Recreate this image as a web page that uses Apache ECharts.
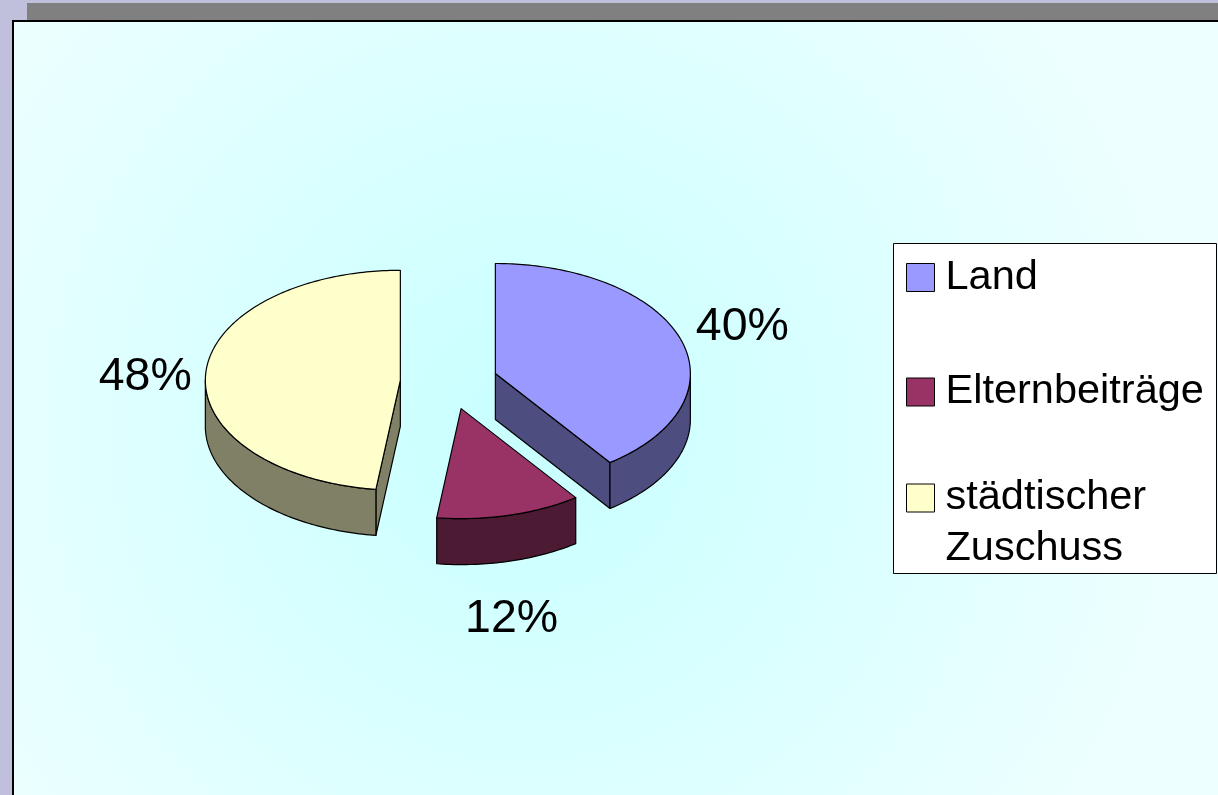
<!DOCTYPE html>
<html><head><meta charset="utf-8">
<script src="https://cdn.jsdelivr.net/npm/echarts@6/dist/echarts.min.js"></script>
<style>html,body{margin:0;padding:0;background:#C0C0DC;overflow:hidden}#c{width:1218px;height:795px}</style>
</head><body><div id="c"></div>
<script>
// ---- data ----
const categories = ['Land', 'Elternbeiträge', 'städtischer Zuschuss'];
const values = [40, 12, 48];
const valueLabels = ['40%', '12%', '48%'];
const legendLabels = ['Land', 'Elternbeiträge', '\nstädtischer\nZuschuss'];

// ---- styles / layout ----
const topColors = ['#9999FF', '#993366', '#FFFFCC'];
const sideColors = ['#4D4D80', '#4D1A33', '#808066'];
const PIE = { cx: 449, cy: 382, rx: 195, ry: 110, depth: 46, explode: 0.25 };
const FONT = 'Liberation Sans, Arial, sans-serif';
const legendTops = [252, 366.5, 421.5];
const labelNudge = [[1, -12], [2, 0], [0, 4]];

const total = values.reduce((a, b) => a + b, 0);
const starts = [];
values.reduce((acc, v, i) => { starts[i] = acc; return acc + v / total * 360; }, 0);

function renderSlice(params, api) {
  const i = params.seriesIndex;
  const a0 = starts[i], a1 = starts[i] + values[i] / total * 360;
  const midDeg = (a0 + a1) / 2, mid = midDeg * Math.PI / 180;
  const ox = PIE.explode * Math.sin(mid), oy = PIE.explode * Math.cos(mid);
  const T = PIE.depth / PIE.ry;
  const pt = (deg, r, down) => {
    const t = deg * Math.PI / 180;
    return api.coord([ox + r * Math.sin(t), oy + r * Math.cos(t) - (down ? T : 0)]);
  };
  const arc = (d0, d1, down) => {
    const pts = []; const n = Math.max(2, Math.ceil(d1 - d0));
    for (let k = 0; k <= n; k++) pts.push(pt(d0 + (d1 - d0) * k / n, 1, down));
    return pts;
  };
  const sideStyle = { fill: sideColors[i], stroke: '#000', lineWidth: 1.2, lineJoin: 'round' };
  const topStyle = { fill: topColors[i], stroke: '#000', lineWidth: 1.2, lineJoin: 'round' };
  const children = [];
  if (a0 > 180 && a0 < 360) children.push({ type: 'polygon', shape: { points: [pt(0, 0, false), pt(a0, 1, false), pt(a0, 1, true), pt(0, 0, true)] }, style: sideStyle });
  if (a1 > 0 && a1 < 180) children.push({ type: 'polygon', shape: { points: [pt(0, 0, false), pt(a1, 1, false), pt(a1, 1, true), pt(0, 0, true)] }, style: sideStyle });
  const w0 = Math.max(a0, 90), w1 = Math.min(a1, 270);
  if (w1 > w0) children.push({ type: 'polygon', shape: { points: arc(w0, w1, false).concat(arc(w0, w1, true).reverse()) }, style: sideStyle });
  children.push({ type: 'polygon', shape: { points: [pt(0, 0, false)].concat(arc(a0, a1, false)) }, style: topStyle });

  // label
  const inFront = Math.cos(mid) < 0;
  const anchor = pt(midDeg, 1, inFront);
  const sx = Math.sin(mid) * PIE.rx, sy = -Math.cos(mid) * PIE.ry;
  let x, y, align, va;
  if (Math.abs(sx) >= Math.abs(sy)) {
    x = anchor[0] + Math.sign(sx) * 14; y = anchor[1]; align = sx > 0 ? 'left' : 'right'; va = 'middle';
  } else {
    x = anchor[0]; y = anchor[1] + Math.sign(sy) * 34; align = 'center'; va = sy > 0 ? 'top' : 'bottom';
  }
  x += labelNudge[i][0]; y += labelNudge[i][1];
  children.push({ type: 'text', x, y, style: { text: valueLabels[i], fontSize: 46.5, fontFamily: FONT, fill: '#000', align, verticalAlign: va } });
  return { type: 'group', children };
}

const chart = echarts.init(document.getElementById('c'), null, { renderer: 'canvas' });
chart.setOption({
  animation: false,
  graphic: [
    { type: 'rect', z: -10, shape: { x: 27, y: 3, width: 1200, height: 17 }, style: { fill: '#808080' } },
    { type: 'rect', z: -9, shape: { x: 13, y: 21, width: 1220, height: 790 },
      style: { fill: { type: 'radial', x: 0.42, y: 0.52, r: 0.85, colorStops: [{ offset: 0, color: '#C8FFFF' }, { offset: 1, color: '#EEFFFF' }] }, stroke: '#000', lineWidth: 2 } },
    { type: 'rect', z: 1, shape: { x: 893.5, y: 243.5, width: 323, height: 330 }, style: { fill: '#FFFFFF', stroke: '#000', lineWidth: 1 } }
  ],
  grid: { left: PIE.cx - 2 * PIE.rx, top: PIE.cy - 2 * PIE.ry, width: 4 * PIE.rx, height: 4 * PIE.ry },
  xAxis: { type: 'value', min: -2, max: 2, show: false },
  yAxis: { type: 'value', min: -2, max: 2, show: false },
  legend: categories.map((name, i) => ({
    orient: 'vertical', left: 906, top: legendTops[i], padding: 0, itemWidth: 28, itemHeight: 28,
    selectedMode: false, icon: 'rect', z: 5,
    data: [{ name, itemStyle: { color: topColors[i], borderColor: '#000', borderWidth: 1 } }],
    formatter: () => legendLabels[i],
    textStyle: { fontSize: 41.5, fontFamily: FONT, color: '#000', lineHeight: 51, padding: [0, 0, 0, 6] }
  })),
  series: categories.map((name, i) => ({
    type: 'custom', name, coordinateSystem: 'cartesian2d', silent: true, clip: false, z: 2,
    itemStyle: { color: topColors[i] },
    renderItem: renderSlice,
    data: [[0, 0]]
  }))
});
</script></body></html>
